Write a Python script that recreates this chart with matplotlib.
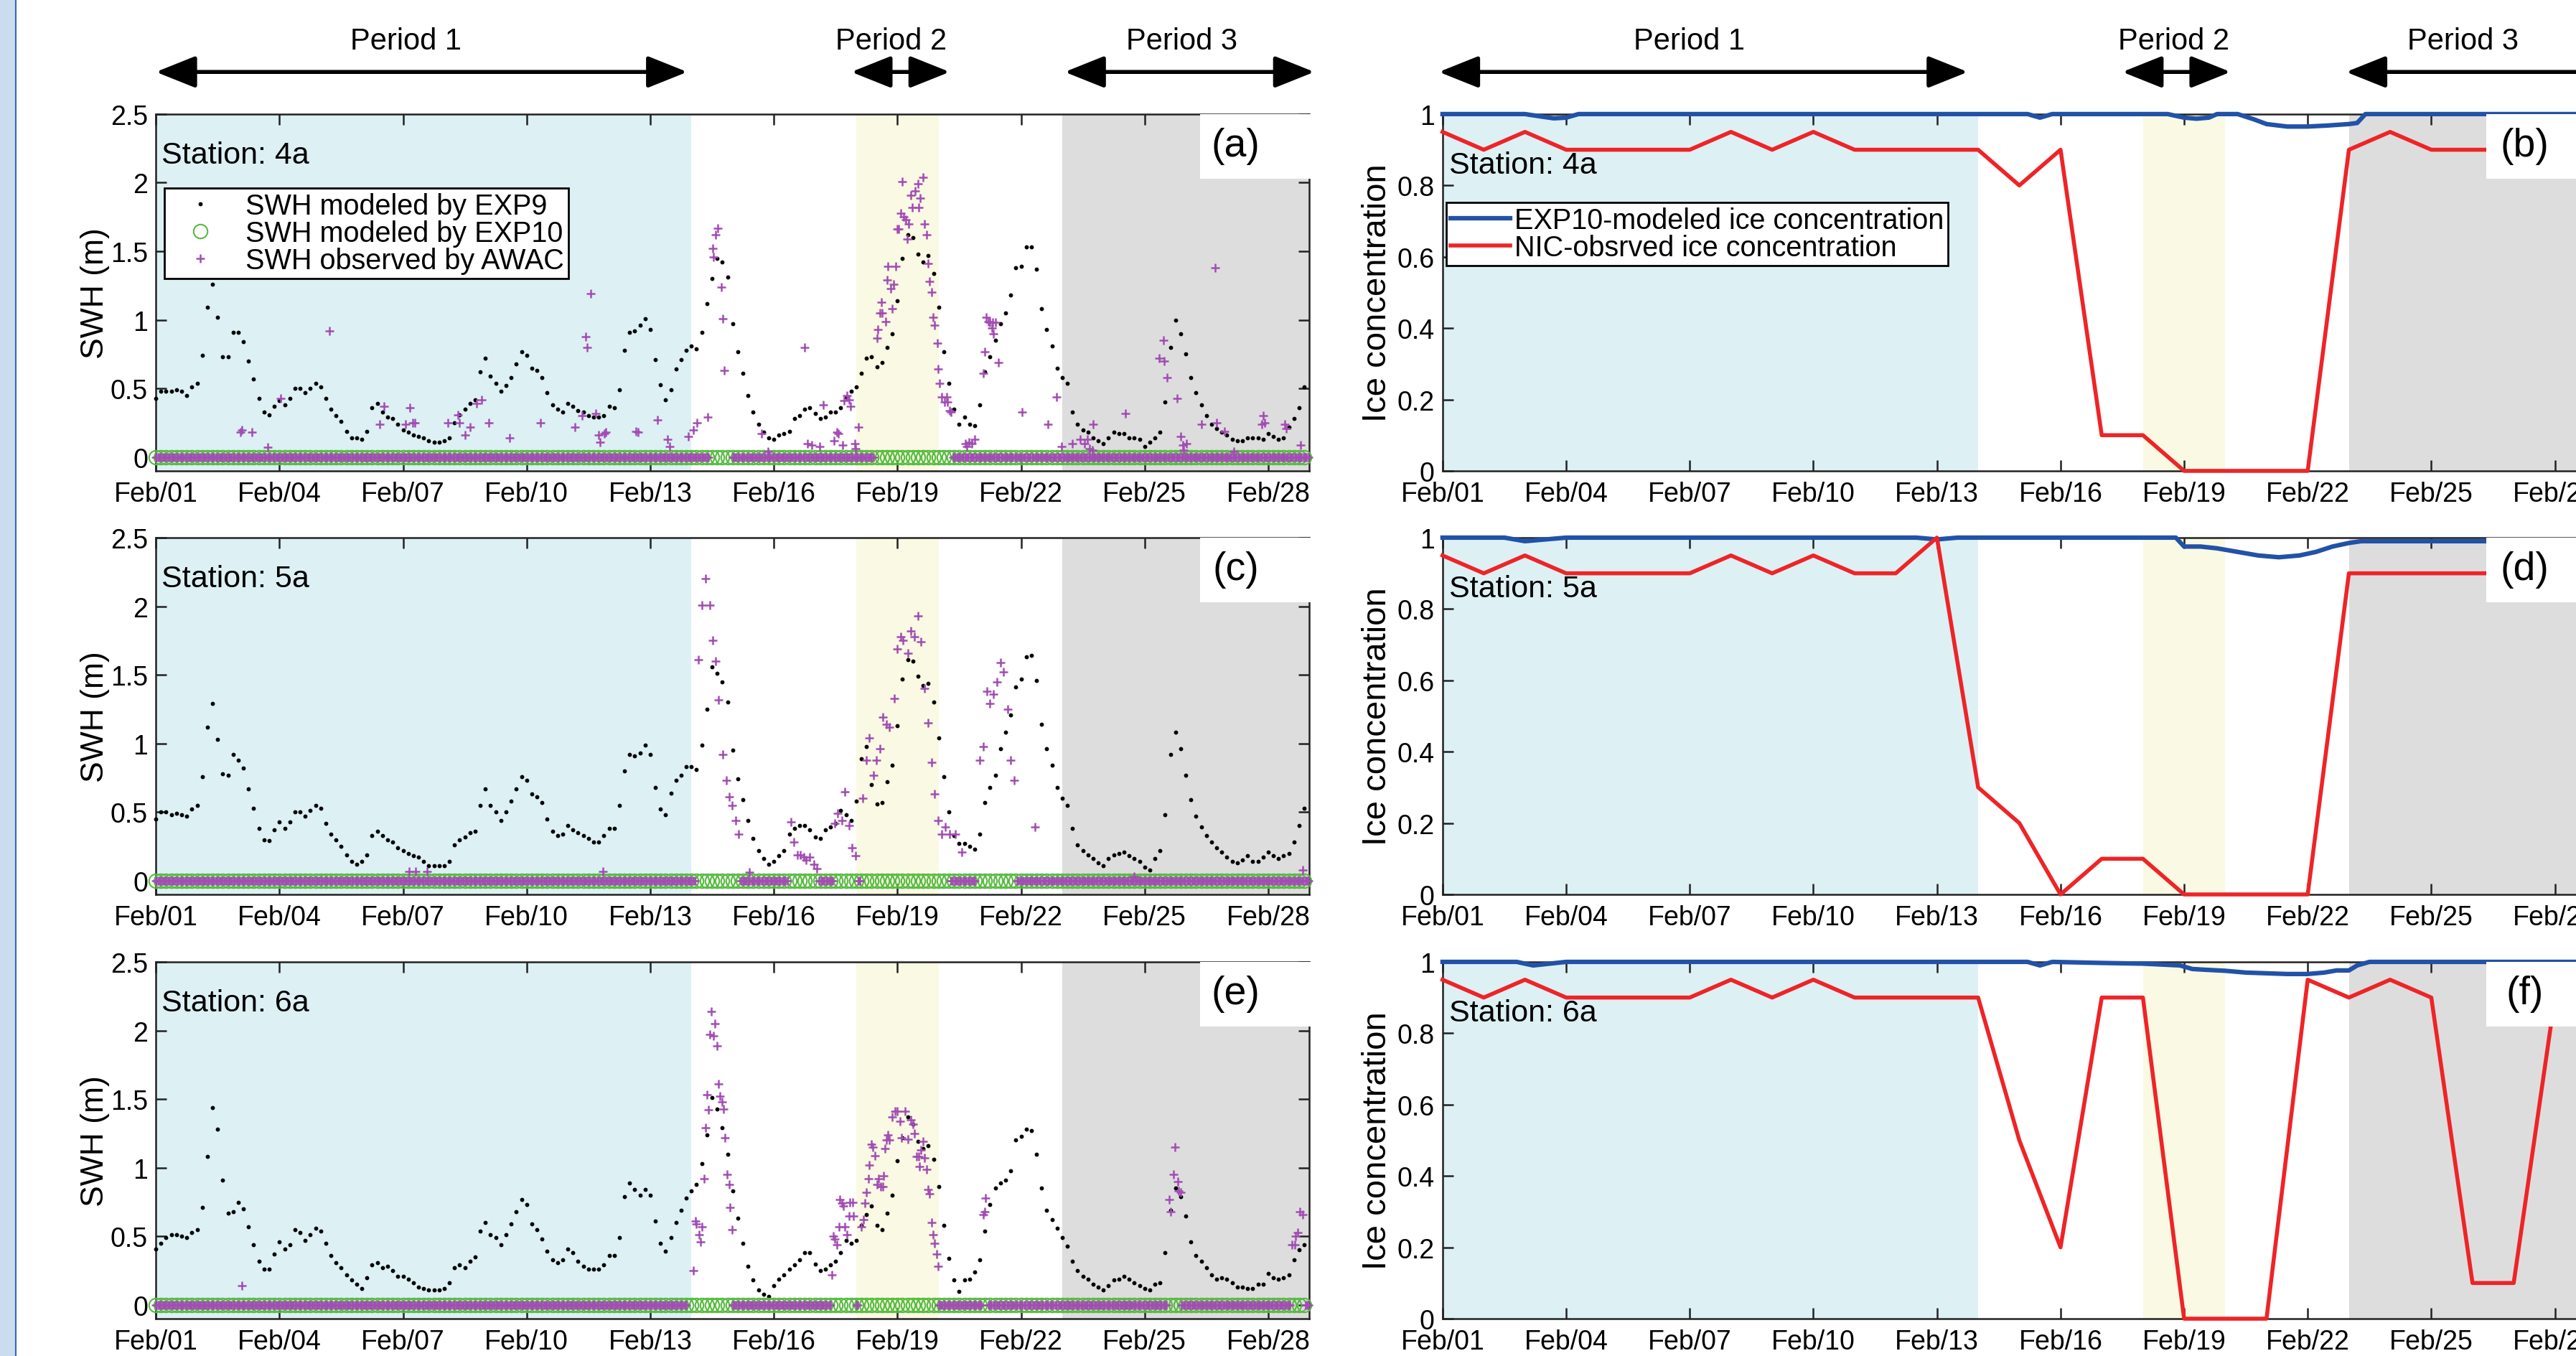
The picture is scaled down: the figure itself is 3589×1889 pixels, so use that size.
import numpy as np
import matplotlib
matplotlib.use("Agg")
import matplotlib.pyplot as plt
from matplotlib.patches import Rectangle
from matplotlib.lines import Line2D

plt.rcParams["font.family"] = ["Liberation Sans", "DejaVu Sans"]

# x axis: day of February
tick_days = [1, 4, 7, 10, 13, 16, 19, 22, 25, 28]
tick_labels = ["Feb/01", "Feb/04", "Feb/07", "Feb/10", "Feb/13",
               "Feb/16", "Feb/19", "Feb/22", "Feb/25", "Feb/28"]
stations = ["4a", "5a", "6a"]
left_letters = ["(a)", "(c)", "(e)"]
right_letters = ["(b)", "(d)", "(f)"]

# period shading (start day, end day)
period1 = (1.0, 14.0)
period2 = (18.0, 20.0)
period3 = (23.0, 29.0)

# SWH modeled by EXP9, 3-hourly from Feb 1 00:00 (one row = one day)
swh_exp9_4a = [
    0.43, 0.48, 0.48, 0.48, 0.49, 0.48, 0.45, 0.51,
    0.54, 0.74, 1.09, 1.26, 1.02, 0.73, 0.73, 0.91,
    0.91, 0.84, 0.70, 0.57, 0.43, 0.33, 0.31, 0.37,
    0.41, 0.38, 0.43, 0.50, 0.50, 0.47, 0.50, 0.54,
    0.51, 0.43, 0.35, 0.30, 0.26, 0.19, 0.14, 0.14,
    0.13, 0.19, 0.36, 0.39, 0.33, 0.29, 0.28, 0.24,
    0.20, 0.18, 0.16, 0.15, 0.14, 0.12, 0.11, 0.11,
    0.12, 0.14, 0.25, 0.31, 0.35, 0.39, 0.42, 0.62,
    0.72, 0.59, 0.54, 0.48, 0.52, 0.58, 0.68, 0.77,
    0.74, 0.65, 0.63, 0.58, 0.47, 0.38, 0.35, 0.33,
    0.39, 0.37, 0.34, 0.33, 0.30, 0.29, 0.29, 0.30,
    0.37, 0.36, 0.49, 0.78, 0.91, 0.92, 0.96, 1.01,
    0.93, 0.71, 0.53, 0.42, 0.49, 0.64, 0.71, 0.78,
    0.81, 0.79, 0.91, 1.12, 1.30, 1.45, 1.42, 1.31,
    0.97, 0.77, 0.61, 0.45, 0.33, 0.24, 0.18, 0.14,
    0.13, 0.16, 0.17, 0.19, 0.28, 0.30, 0.35, 0.36,
    0.32, 0.28, 0.29, 0.33, 0.33, 0.36, 0.44, 0.48,
    0.51, 0.61, 0.72, 0.73, 0.66, 0.69, 0.80, 0.90,
    1.14, 1.45, 1.62, 1.60, 1.48, 1.42, 1.47, 1.34,
    1.09, 0.77, 0.54, 0.35, 0.24, 0.29, 0.24, 0.23,
    0.38, 0.62, 0.73, 0.85, 0.97, 1.05, 1.18, 1.38,
    1.39, 1.53, 1.53, 1.37, 1.08, 0.93, 0.81, 0.65,
    0.58, 0.54, 0.33, 0.24, 0.20, 0.18, 0.14, 0.12,
    0.10, 0.14, 0.18, 0.17, 0.17, 0.14, 0.14, 0.13,
    0.08, 0.11, 0.14, 0.18, 0.40, 0.80, 1.00, 0.90,
    0.75, 0.58, 0.47, 0.38, 0.30, 0.24, 0.21, 0.18,
    0.16, 0.13, 0.12, 0.12, 0.14, 0.14, 0.14, 0.13,
    0.17, 0.15, 0.13, 0.14, 0.22, 0.28, 0.36, 0.51,
]
swh_exp9_5a = [
    0.45, 0.50, 0.50, 0.48, 0.49, 0.48, 0.47, 0.52,
    0.55, 0.76, 1.12, 1.29, 1.03, 0.78, 0.77, 0.92,
    0.88, 0.82, 0.67, 0.53, 0.38, 0.30, 0.29, 0.37,
    0.43, 0.38, 0.43, 0.50, 0.50, 0.47, 0.51, 0.55,
    0.53, 0.42, 0.34, 0.30, 0.25, 0.19, 0.14, 0.12,
    0.14, 0.19, 0.33, 0.36, 0.33, 0.30, 0.28, 0.24,
    0.22, 0.20, 0.18, 0.17, 0.14, 0.11, 0.11, 0.11,
    0.11, 0.14, 0.26, 0.30, 0.32, 0.35, 0.36, 0.55,
    0.67, 0.55, 0.50, 0.44, 0.50, 0.58, 0.67, 0.76,
    0.73, 0.63, 0.61, 0.57, 0.45, 0.36, 0.33, 0.34,
    0.40, 0.37, 0.35, 0.33, 0.31, 0.28, 0.28, 0.33,
    0.38, 0.38, 0.55, 0.80, 0.92, 0.91, 0.93, 0.99,
    0.92, 0.68, 0.52, 0.48, 0.64, 0.73, 0.77, 0.83,
    0.83, 0.81, 0.99, 1.25, 1.56, 1.51, 1.45, 1.30,
    0.95, 0.74, 0.59, 0.44, 0.31, 0.22, 0.16, 0.12,
    0.14, 0.18, 0.22, 0.34, 0.38, 0.40, 0.40, 0.37,
    0.32, 0.31, 0.37, 0.39, 0.42, 0.51, 0.48, 0.44,
    0.58, 0.89, 0.98, 0.70, 0.56, 0.57, 0.72, 0.84,
    1.13, 1.47, 1.61, 1.60, 1.49, 1.42, 1.44, 1.30,
    1.04, 0.76, 0.50, 0.33, 0.27, 0.27, 0.25, 0.23,
    0.34, 0.57, 0.68, 0.77, 0.96, 1.08, 1.21, 1.41,
    1.47, 1.63, 1.64, 1.46, 1.14, 0.96, 0.84, 0.68,
    0.60, 0.55, 0.38, 0.26, 0.22, 0.19, 0.16, 0.13,
    0.11, 0.16, 0.19, 0.20, 0.21, 0.18, 0.16, 0.14,
    0.10, 0.08, 0.16, 0.22, 0.48, 0.92, 1.08, 0.96,
    0.77, 0.59, 0.47, 0.39, 0.33, 0.28, 0.24, 0.21,
    0.17, 0.14, 0.13, 0.15, 0.18, 0.14, 0.14, 0.17,
    0.21, 0.18, 0.16, 0.18, 0.20, 0.28, 0.40, 0.53,
]
swh_exp9_6a = [
    0.41, 0.45, 0.49, 0.51, 0.51, 0.50, 0.49, 0.53,
    0.55, 0.71, 1.08, 1.44, 1.28, 0.91, 0.67, 0.68,
    0.75, 0.70, 0.57, 0.44, 0.32, 0.26, 0.26, 0.37,
    0.46, 0.41, 0.44, 0.55, 0.53, 0.47, 0.51, 0.56,
    0.54, 0.45, 0.36, 0.31, 0.27, 0.22, 0.18, 0.15,
    0.12, 0.20, 0.29, 0.31, 0.27, 0.28, 0.25, 0.21,
    0.21, 0.19, 0.16, 0.13, 0.12, 0.11, 0.11, 0.11,
    0.12, 0.16, 0.27, 0.29, 0.27, 0.32, 0.35, 0.54,
    0.60, 0.51, 0.49, 0.44, 0.51, 0.59, 0.68, 0.77,
    0.73, 0.59, 0.55, 0.48, 0.39, 0.33, 0.31, 0.33,
    0.41, 0.38, 0.32, 0.28, 0.26, 0.26, 0.26, 0.29,
    0.36, 0.36, 0.49, 0.79, 0.89, 0.84, 0.80, 0.84,
    0.80, 0.61, 0.45, 0.39, 0.49, 0.60, 0.69, 0.78,
    0.83, 0.88, 1.03, 1.24, 1.51, 1.43, 1.29, 1.10,
    0.83, 0.63, 0.45, 0.28, 0.18, 0.11, 0.08, 0.06,
    0.14, 0.19, 0.22, 0.26, 0.29, 0.33, 0.38, 0.38,
    0.30, 0.25, 0.26, 0.29, 0.32, 0.38, 0.47, 0.45,
    0.47, 0.58, 0.66, 0.72, 0.58, 0.55, 0.67, 0.80,
    1.05, 1.22, 1.37, 1.32, 1.19, 1.14, 1.16, 1.06,
    0.86, 0.58, 0.34, 0.18, 0.10, 0.18, 0.19, 0.24,
    0.33, 0.54, 0.73, 0.85, 0.89, 0.91, 0.98, 1.20,
    1.23, 1.28, 1.27, 1.10, 0.85, 0.69, 0.62, 0.56,
    0.49, 0.43, 0.32, 0.25, 0.21, 0.19, 0.15, 0.13,
    0.11, 0.14, 0.18, 0.19, 0.21, 0.19, 0.16, 0.14,
    0.12, 0.11, 0.15, 0.16, 0.38, 0.69, 0.85, 0.79,
    0.65, 0.46, 0.36, 0.32, 0.27, 0.22, 0.19, 0.20,
    0.19, 0.16, 0.13, 0.13, 0.12, 0.12, 0.15, 0.15,
    0.23, 0.20, 0.19, 0.20, 0.22, 0.33, 0.40, 0.44,
]

# EXP10 (ice covered): SWH is 0 at every 3-hourly output
swh_exp10_value = 0.0

# AWAC observations above zero (day, SWH)
obs_4a_t = [3.05, 3.09, 3.34, 3.71, 4.03, 5.21, 6.44, 6.53, 7.06, 7.17, 7.24, 7.29,
            8.08, 8.34, 8.36, 8.50, 8.63, 8.79, 8.91, 9.09, 9.59, 10.33, 11.17, 11.34,
            11.43, 11.46, 11.55, 11.67, 11.75, 11.79, 11.88, 11.93, 12.66, 12.70, 13.17,
            13.42, 13.47, 13.92, 14.04, 14.14, 14.39, 14.51, 14.53, 14.58, 14.64, 14.72,
            14.76, 14.79, 15.71, 15.86, 16.75, 16.82, 16.93, 17.12, 17.20, 17.46, 17.53,
            17.57, 17.67, 17.71, 17.78, 17.82, 17.86, 17.96, 17.99, 18.06, 18.51, 18.53,
            18.58, 18.61, 18.63, 18.71, 18.75, 18.77, 18.83, 18.87, 18.90, 18.96, 18.99,
            19.03, 19.08, 19.12, 19.15, 19.21, 19.23, 19.28, 19.32, 19.36, 19.43, 19.50,
            19.52, 19.56, 19.62, 19.66, 19.71, 19.75, 19.78, 19.83, 19.87, 19.90, 19.97,
            19.99, 20.03, 20.08, 20.15, 20.19, 20.21, 20.27, 20.30, 20.65, 20.69, 20.74,
            20.80, 20.88, 21.09, 21.12, 21.16, 21.20, 21.24, 21.29, 21.31, 21.33, 21.38,
            21.45, 22.03, 22.65, 22.86, 22.99, 23.25, 23.43, 23.55, 23.61, 23.67, 23.73,
            23.75, 24.53, 25.36, 25.45, 25.48, 25.54, 25.79, 25.87, 25.92, 25.95, 26.01,
            26.39, 26.71, 26.74, 26.94, 27.17, 27.85, 27.88, 27.91, 28.40, 28.44, 28.79]
obs_4a_v = [0.18, 0.20, 0.18, 0.07, 0.43, 0.92, 0.24, 0.37, 0.24, 0.36, 0.25, 0.25,
            0.25, 0.31, 0.25, 0.16, 0.22, 0.39, 0.42, 0.25, 0.14, 0.25, 0.22, 0.30,
            0.88, 0.80, 1.19, 0.32, 0.16, 0.11, 0.17, 0.18, 0.19, 0.18, 0.27,
            0.13, 0.08, 0.15, 0.20, 0.25, 0.29, 1.52, 1.46, 1.62, 1.67, 1.24,
            1.01, 0.63, 0.17, 0.04, 0.80, 0.10, 0.09, 0.08, 0.38, 0.12, 0.18,
            0.17, 0.09, 0.41, 0.45, 0.42, 0.37, 0.10, 0.06, 0.22, 0.87, 0.93,
            1.05, 1.13, 1.05, 0.99, 1.29, 1.39, 1.23, 1.08, 1.26, 1.39, 1.66,
            1.66, 1.78, 2.01, 1.75, 1.73, 1.59, 1.70, 1.91, 1.82, 1.94, 1.99,
            1.82, 1.89, 2.04, 1.70, 1.62, 1.41, 1.28, 1.20, 1.02, 0.96, 0.83,
            0.64, 0.54, 0.44, 0.40, 0.44, 0.40, 0.34, 0.33, 0.10, 0.08, 0.11,
            0.10, 0.13, 0.61, 0.77, 1.02, 0.99, 0.98, 0.94, 0.98, 0.90, 0.98,
            0.69, 0.33, 0.24, 0.44, 0.08, 0.10, 0.13, 0.10, 0.13, 0.06, 0.05,
            0.24, 0.32, 0.72, 0.85, 0.70, 0.58, 0.43, 0.15, 0.09, 0.05, 0.10,
            0.24, 1.38, 0.25, 0.19, 0.04, 0.24, 0.30, 0.25, 0.24, 0.21, 0.09]

obs_5a_t = [7.15, 7.31, 7.58, 11.85, 14.17, 14.25, 14.34, 14.44, 14.51, 14.58, 14.66,
            14.76, 14.84, 14.92, 14.99, 15.07, 15.15, 15.41, 16.41, 16.48, 16.57, 16.64,
            16.73, 16.79, 16.87, 16.98, 17.05, 17.48, 17.55, 17.66, 17.73, 17.82, 17.90,
            17.99, 18.16, 18.25, 18.32, 18.42, 18.49, 18.57, 18.64, 18.73, 18.81, 18.92,
            18.99, 19.08, 19.14, 19.25, 19.32, 19.41, 19.50, 19.57, 19.65, 19.75, 19.83,
            19.90, 19.99, 20.08, 20.17, 20.27, 20.41, 20.56, 21.00, 21.09, 21.17, 21.25,
            21.33, 21.41, 21.50, 21.58, 21.67, 21.74, 21.83, 22.34, 24.75, 28.84]
obs_5a_v = [0.07, 0.07, 0.07, 0.07, 1.61, 2.01, 2.20, 2.01, 1.75, 1.60, 1.32,
            0.92, 0.73, 0.61, 0.55, 0.44, 0.34, 0.06, 0.43, 0.28, 0.19, 0.19,
            0.17, 0.15, 0.17, 0.12, 0.09, 0.42, 0.49, 0.44, 0.65, 0.40, 0.24,
            0.18, 0.60, 0.88, 1.04, 0.77, 0.88, 0.96, 1.19, 1.14, 1.12, 1.33,
            1.69, 1.78, 1.75, 1.66, 1.82, 1.78, 1.93, 1.74, 1.40, 1.15, 0.86,
            0.63, 0.44, 0.34, 0.39, 0.34, 0.34, 0.21, 0.88, 0.98, 1.38, 1.29,
            1.36, 1.45, 1.59, 1.52, 1.25, 0.88, 0.73, 0.39, 0.03, 0.08]

obs_6a_t = [3.09, 14.05, 14.10, 14.12, 14.18, 14.22, 14.25, 14.31, 14.34, 14.37, 14.41,
            14.44, 14.48, 14.53, 14.57, 14.62, 14.66, 14.70, 14.75, 14.78, 14.82, 14.87,
            14.91, 14.94, 14.99, 17.41, 17.44, 17.48, 17.53, 17.58, 17.60, 17.66, 17.69,
            17.73, 17.78, 17.82, 17.85, 17.91, 17.93, 18.12, 18.17, 18.21, 18.25, 18.29,
            18.32, 18.37, 18.40, 18.45, 18.50, 18.55, 18.59, 18.64, 18.66, 18.70, 18.73,
            18.76, 18.81, 18.88, 18.94, 18.99, 19.06, 19.10, 19.19, 19.25, 19.32, 19.37,
            19.42, 19.46, 19.51, 19.54, 19.57, 19.62, 19.66, 19.71, 19.75, 19.78, 19.83,
            19.87, 19.90, 19.96, 19.99, 21.09, 21.12, 21.14, 25.60, 25.64, 25.71, 25.74,
            25.80, 25.83, 25.87, 28.58, 28.64, 28.67, 28.72, 28.76, 28.83]
obs_6a_v = [0.14, 0.25, 0.61, 0.59, 0.51, 0.46, 0.57, 0.92, 1.29, 1.53, 1.42,
            1.97, 2.14, 1.96, 2.05, 1.89, 1.61, 1.52, 1.48, 1.43, 1.22, 0.95,
            0.88, 0.71, 0.55, 0.22, 0.50, 0.48, 0.44, 0.57, 0.77, 0.74, 0.72,
            0.57, 0.51, 0.65, 0.75, 0.75, 0.65, 0.57, 0.62, 0.74, 0.82, 0.92,
            1.02, 1.17, 1.15, 1.09, 0.88, 0.92, 0.86, 0.86, 0.94, 1.14, 1.20,
            1.24, 1.20, 1.37, 1.41, 1.41, 1.34, 1.22, 1.41, 1.21, 1.35, 1.32,
            1.25, 1.08, 1.08, 1.01, 1.13, 1.19, 1.07, 0.99, 0.84, 0.81, 0.60,
            0.51, 0.45, 0.37, 0.28, 0.66, 0.68, 0.78, 0.77, 0.68, 0.95, 1.15,
            0.90, 0.83, 0.82, 0.44, 0.44, 0.50, 0.53, 0.68, 0.66]

# spans (start day, end day) where the hourly AWAC record sits at 0
obs_zero_4a = [(1.0, 14.45), (15.0, 18.45), (20.35, 29.0)]
obs_zero_5a = [(1.0, 14.1), (15.2, 16.35), (17.1, 17.45), (18.05, 18.1),
               (20.3, 20.9), (21.9, 29.0)]
obs_zero_6a = [(1.0, 13.9), (15.0, 17.4), (18.0, 18.05), (20.0, 21.05),
               (21.2, 25.55), (25.9, 28.55), (28.9, 29.0)]

# NIC observed ice concentration, daily Feb 1..28
nic_days = list(range(1, 29))
nic_4a = [0.95, 0.90, 0.95, 0.90, 0.90, 0.90, 0.90, 0.95, 0.90, 0.95, 0.90, 0.90, 0.90, 0.90,
          0.80, 0.90, 0.10, 0.10, 0.00, 0.00, 0.00, 0.00, 0.90, 0.95, 0.90, 0.90, 0.90, 0.90]
nic_5a = [0.95, 0.90, 0.95, 0.90, 0.90, 0.90, 0.90, 0.95, 0.90, 0.95, 0.90, 0.90, 1.00, 0.30,
          0.20, 0.00, 0.10, 0.10, 0.00, 0.00, 0.00, 0.00, 0.90, 0.90, 0.90, 0.90, 0.90, 0.90]
nic_6a = [0.95, 0.90, 0.95, 0.90, 0.90, 0.90, 0.90, 0.95, 0.90, 0.95, 0.90, 0.90, 0.90, 0.90,
          0.50, 0.20, 0.90, 0.90, 0.00, 0.00, 0.00, 0.95, 0.90, 0.95, 0.90, 0.10, 0.10, 0.90]

# EXP10 modeled ice concentration (day, value)
ice_4a_t = [1.0, 3.0, 3.4, 3.7, 4.0, 4.3, 15.2, 15.5, 15.8, 18.6, 19.0, 19.3, 19.6, 19.8,
            20.3, 20.7, 21.0, 21.5, 22.0, 22.5, 23.0, 23.2, 23.4, 29.0]
ice_4a_v = [1.0, 1.0, 0.993, 0.988, 0.99, 1.0, 1.0, 0.99, 1.0, 1.0, 0.99, 0.987, 0.99, 1.0,
            1.0, 0.985, 0.972, 0.965, 0.965, 0.968, 0.972, 0.975, 1.0, 1.0]
ice_5a_t = [1.0, 2.5, 3.0, 3.5, 4.0, 12.5, 13.0, 13.5, 18.8, 19.0, 19.4, 19.8, 20.3, 20.8,
            21.3, 21.8, 22.2, 22.6, 23.0, 23.3, 29.0]
ice_5a_v = [1.0, 1.0, 0.99, 0.995, 1.0, 1.0, 0.995, 1.0, 1.0, 0.975, 0.975, 0.97, 0.96, 0.95,
            0.945, 0.95, 0.96, 0.975, 0.985, 0.99, 0.99]
ice_6a_t = [1.0, 2.8, 3.2, 3.6, 4.0, 15.2, 15.5, 15.8, 17.0, 18.0, 18.9, 19.2, 19.5, 20.0,
            20.5, 21.0, 21.5, 22.0, 22.4, 22.7, 23.0, 23.2, 23.5, 29.0]
ice_6a_v = [1.0, 1.0, 0.99, 0.995, 1.0, 1.0, 0.99, 1.0, 0.997, 0.995, 0.99, 0.98, 0.978, 0.975,
            0.97, 0.968, 0.966, 0.966, 0.97, 0.976, 0.976, 0.99, 1.0, 1.0]

swh_exp9 = [swh_exp9_4a, swh_exp9_5a, swh_exp9_6a]
obs_t = [obs_4a_t, obs_5a_t, obs_6a_t]
obs_v = [obs_4a_v, obs_5a_v, obs_6a_v]
obs_zero = [obs_zero_4a, obs_zero_5a, obs_zero_6a]
nic = [nic_4a, nic_5a, nic_6a]
ice_t = [ice_4a_t, ice_5a_t, ice_6a_t]
ice_v = [ice_4a_v, ice_5a_v, ice_6a_v]

# colours
c_p1, c_p2, c_p3 = "#DDF0F4", "#FAF9E3", "#DDDDDD"
c_exp9 = "black"
c_exp10 = "#55BB3E"
c_awac = "#A24DB3"
c_model_ice = "#2152A8"
c_nic = "#EE2427"

fig = plt.figure(figsize=(35.89, 18.90), dpi=100)

# textured blue strip on the left edge of the page
fig.patches.append(Rectangle((0, 0), 22 / 3589, 1, transform=fig.transFigure,
                             facecolor="#C9DDEF", edgecolor="none"))
fig.lines.append(Line2D([22 / 3589, 22 / 3589], [0, 1], transform=fig.transFigure,
                        color="#3A62C4", lw=1.5))

left_x, right_x, width = 0.0605, 0.560, 0.4478
bottoms = [0.6524, 0.3402, 0.0275]
height = 0.263


def style_axes(ax, ylim, yticks, ylabels):
    ax.set_xlim(1, 29)
    ax.set_ylim(*ylim)
    ax.set_xticks(tick_days)
    ax.set_xticklabels(tick_labels)
    ax.set_yticks(yticks)
    ax.set_yticklabels(ylabels)
    ax.tick_params(direction="in", length=11, width=1.8, top=True, right=True,
                   labelsize=27, color="#222222")
    ax.tick_params(axis="x", pad=10)
    ax.tick_params(axis="y", pad=8)
    for sp in ax.spines.values():
        sp.set_linewidth(1.8)
        sp.set_color("#222222")
    ax.axvspan(*period1, color=c_p1, lw=0, zorder=0)
    ax.axvspan(*period2, color=c_p2, lw=0, zorder=0)
    ax.axvspan(*period3, color=c_p3, lw=0, zorder=0)


def panel_letter(ax, letter, xc):
    ax.add_patch(Rectangle((0.905, 0.819), 0.2, 0.181, transform=ax.transAxes,
                           facecolor="white", edgecolor="none", zorder=4, clip_on=False))
    ax.text(xc, 0.912, letter, transform=ax.transAxes, fontsize=40,
            ha="center", va="center", zorder=5)


def period_arrows(ax, spans):
    tr = ax.get_xaxis_transform()
    for label, x0, x1, xt in spans:
        ax.annotate("", xy=(x1, 1.118), xytext=(x0, 1.118), xycoords=tr, textcoords=tr,
                    annotation_clip=False,
                    arrowprops=dict(arrowstyle="<|-|>,head_length=0.85,head_width=0.34",
                                    mutation_scale=40, lw=4, color="black",
                                    shrinkA=0, shrinkB=0))
        ax.text(xt, 1.205, label, transform=tr, fontsize=30, ha="center", va="center")


t3h = 1 + np.arange(len(swh_exp9_4a)) / 8.0

for r in range(3):
    # ---- SWH panels (left) ----
    ax = fig.add_axes([left_x, bottoms[r], width, height])
    style_axes(ax, (-0.1, 2.5), [0, 0.5, 1, 1.5, 2, 2.5],
               ["0", "0.5", "1", "1.5", "2", "2.5"])
    h1, = ax.plot(t3h, swh_exp9[r], "o", ms=4.2, mew=0, color=c_exp9, clip_on=False,
                  zorder=3)
    h2, = ax.plot(t3h, np.full(len(t3h), swh_exp10_value), "o", ms=14, mfc="none",
                  mec=c_exp10, mew=1.5, clip_on=False, zorder=3)
    zt = np.concatenate([np.arange(a, b + 1e-6, 1 / 24.0) for a, b in obs_zero[r]])
    ax.plot(zt, np.zeros(len(zt)), "+", ms=9, mew=1.8, color=c_awac, clip_on=False,
            zorder=3)
    h3, = ax.plot(obs_t[r], obs_v[r], "+", ms=9, mew=1.8, color=c_awac, clip_on=False,
                  zorder=3)
    ax.set_ylabel("SWH (m)", fontsize=32)
    ax.yaxis.set_label_coords(-0.040, 0.5)
    ax.text(0.005, 0.885, "Station: " + stations[r], transform=ax.transAxes,
            fontsize=31, ha="left", va="center", zorder=5)
    panel_letter(ax, left_letters[r], 0.936)
    if r == 0:
        leg = ax.legend([h1, h2, h3],
                        ["SWH modeled by EXP9", "SWH modeled by EXP10",
                         "SWH observed by AWAC"],
                        loc="upper left", bbox_to_anchor=(0.0075, 0.793),
                        fontsize=28.5, frameon=True, fancybox=False, framealpha=1,
                        edgecolor="black", borderpad=0.15, labelspacing=0.0,
                        handlelength=2.2, handletextpad=0.5, borderaxespad=0)
        leg.get_frame().set_linewidth(2)
        leg.set_zorder(6)
        period_arrows(ax, [("Period 1", 1.0, 13.9, 7.07),
                           ("Period 2", 17.88, 20.27, 18.84),
                           ("Period 3", 23.06, 29.12, 25.9)])

    # ---- ice concentration panels (right) ----
    ax = fig.add_axes([right_x, bottoms[r], width, height])
    style_axes(ax, (0, 1), [0, 0.2, 0.4, 0.6, 0.8, 1],
               ["0", "0.2", "0.4", "0.6", "0.8", "1"])
    b1, = ax.plot(ice_t[r], ice_v[r], "-", lw=4.5, color=c_model_ice, clip_on=False,
                  zorder=3, solid_joinstyle="round")
    b2, = ax.plot(nic_days, nic[r], "-", lw=4, color=c_nic, clip_on=False, zorder=3)
    ax.set_ylabel("Ice concentration", fontsize=34)
    ax.yaxis.set_label_coords(-0.043, 0.5)
    ax.text(0.006, 0.857, "Station: " + stations[r], transform=ax.transAxes,
            fontsize=31, ha="left", va="center", zorder=5)
    panel_letter(ax, right_letters[r], 0.938)
    if r == 0:
        leg = ax.legend([b1, b2],
                        ["EXP10-modeled ice concentration",
                         "NIC-obsrved ice concentration"],
                        loc="upper left", bbox_to_anchor=(0.003, 0.753),
                        fontsize=28.5, frameon=True, fancybox=False, framealpha=1,
                        edgecolor="black", borderpad=0.15, labelspacing=0.0,
                        handlelength=2.1, handletextpad=0.15, borderaxespad=0)
        leg.get_frame().set_linewidth(2)
        leg.set_zorder(6)
        period_arrows(ax, [("Period 1", 0.91, 13.75, 6.98),
                           ("Period 2", 17.5, 20.13, 18.74),
                           ("Period 3", 22.93, 29.6, 25.76)])

fig.savefig("out.png", dpi=100)
